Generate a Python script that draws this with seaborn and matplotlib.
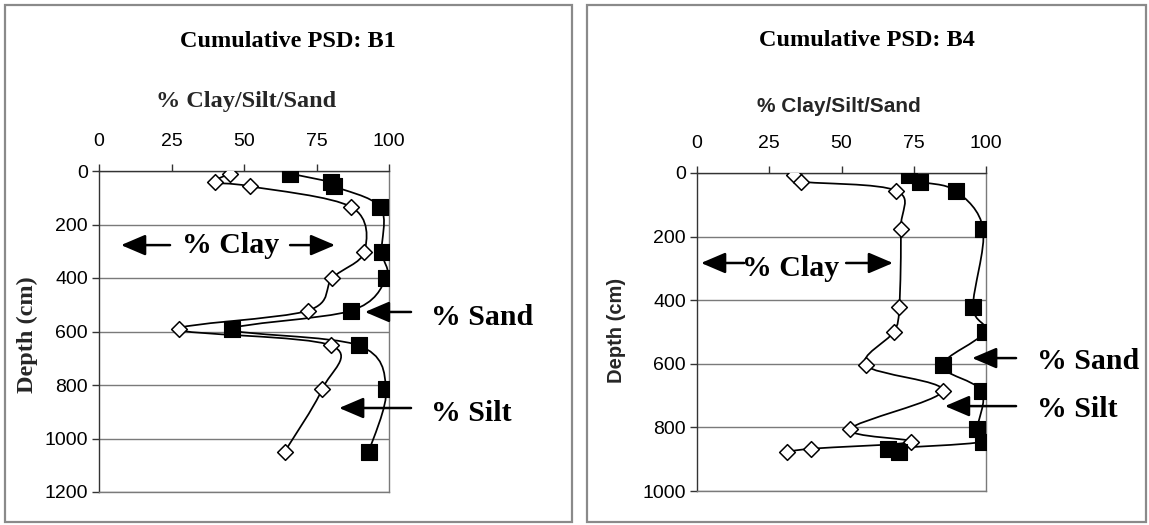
import numpy as np
import pandas as pd
import matplotlib
matplotlib.use("Agg")
import matplotlib.pyplot as plt
from matplotlib.path import Path
from matplotlib.patches import PathPatch, Rectangle
import seaborn as sns

# ---------------- data ----------------
b1_depth = [10, 42, 57, 135, 302, 400, 522, 592, 652, 815, 1050]
b1_sand = [66, 80, 81, 97, 97.5, 99, 87, 46, 89.5, 99, 93]
b1_silt = [45, 40, 52, 87, 91.5, 80.5, 72, 27.5, 80, 77, 64]

b4_depth = [5, 27, 56, 177, 420, 500, 605, 685, 805, 845, 867, 878]
b4_sand = [73.5, 77, 89.5, 99, 95.5, 99.5, 85, 98.5, 97, 99, 66, 70]
b4_silt = [33.5, 36, 69, 70.5, 70, 68, 58.5, 85, 53, 74, 39.5, 31]

x_ticks = [0, 25, 50, 75, 100]
b1_yticks = [0, 200, 400, 600, 800, 1000, 1200]
b4_yticks = [0, 200, 400, 600, 800, 1000]

sns.set_theme(style="white")
plt.rcParams["font.family"] = ["Liberation Sans", "DejaVu Sans"]

SERIF = ["Liberation Serif", "DejaVu Serif"]
SANS = ["Liberation Sans", "DejaVu Sans"]


def smooth_path(xs, ys):
    pts = np.column_stack([xs, ys]).astype(float)
    verts = [pts[0]]
    codes = [Path.MOVETO]
    n = len(pts)
    for i in range(n - 1):
        p0 = pts[i - 1] if i > 0 else pts[i]
        p1 = pts[i]
        p2 = pts[i + 1]
        p3 = pts[i + 2] if i + 2 < n else pts[i + 1]
        c1 = p1 + (p2 - p0) / 6.0
        c2 = p2 - (p3 - p1) / 6.0
        verts += [c1, c2, p2]
        codes += [Path.CURVE4] * 3
    return Path(verts, codes)


fig = plt.figure(figsize=(11.49, 5.25), dpi=100)

# panel frames
for x0, w in [(5 / 1149, 567 / 1149), (587 / 1149, 559 / 1149)]:
    fig.patches.append(Rectangle((x0, 3 / 525), w, 517 / 525, transform=fig.transFigure,
                                 fill=False, edgecolor="#8a8a8a", lw=1.6))

axL = fig.add_axes([99 / 1149, 1 - 492 / 525, 290 / 1149, 321 / 525])
axR = fig.add_axes([697 / 1149, 1 - 491 / 525, 289 / 1149, 318 / 525])


def draw_panel(ax, depth, sand, silt, ymax, yticks):
    df = pd.DataFrame({"depth": depth, "sand": sand, "silt": silt})
    for col in ["silt", "sand"]:
        ax.add_patch(PathPatch(smooth_path(df[col], df["depth"]), fill=False,
                               edgecolor="black", lw=1.25, zorder=2))
    sns.scatterplot(data=df, x="silt", y="depth", marker="D", s=64, color="white",
                    edgecolor="black", linewidth=1.1, ax=ax, zorder=3)
    sns.scatterplot(data=df, x="sand", y="depth", marker="s", s=125, color="black",
                    edgecolor="black", linewidth=0.8, ax=ax, zorder=3)
    ax.set_xlim(0, 100)
    ax.set_ylim(ymax, 0)
    ax.set_xticks(x_ticks)
    ax.set_yticks(yticks)
    ax.xaxis.tick_top()
    ax.tick_params(axis="x", which="both", top=True, bottom=False, direction="out",
                   length=5, width=1, color="#333333", pad=10, labelsize=14)
    ax.tick_params(axis="y", which="both", left=True, direction="out",
                   length=5, width=1, color="#333333", pad=3, labelsize=14)
    for lab in ax.get_xticklabels() + ax.get_yticklabels():
        lab.set_fontfamily(SANS)
        lab.set_color("black")
    ax.yaxis.grid(True, color="#7a7a7a", lw=1.0)
    ax.xaxis.grid(False)
    for s in ax.spines.values():
        s.set_color("#7a7a7a")
        s.set_linewidth(1.0)
    ax.spines["left"].set_color("#333333")
    ax.spines["top"].set_color("#333333")
    ax.set_facecolor("white")


draw_panel(axL, b1_depth, b1_sand, b1_silt, 1200, b1_yticks)
draw_panel(axR, b4_depth, b4_sand, b4_silt, 1000, b4_yticks)

# titles and labels
axL.set_title("Cumulative PSD: B1", x=0.652, y=1.402, pad=0, va="center", fontsize=17.5,
              fontweight="bold", fontfamily=SERIF, color="black")
axR.set_title("Cumulative PSD: B4", x=0.588, y=1.418, pad=0, va="center", fontsize=17.5,
              fontweight="bold", fontfamily=SERIF, color="black")

axL.set_xlabel("% Clay/Silt/Sand", fontsize=17.5, fontweight="bold", fontfamily=SERIF)
axL.xaxis.set_label_coords(0.507, 1.215)
axL.xaxis.label.set_va("center")
axR.set_xlabel("% Clay/Silt/Sand", fontsize=15, fontweight="bold", fontfamily=SANS)
axR.xaxis.set_label_coords(0.49, 1.21)
axR.xaxis.label.set_va("center")

axL.set_ylabel("Depth (cm)", fontsize=17.5, fontweight="bold", fontfamily=SERIF)
axL.yaxis.set_label_coords(-0.247, 0.489)
axL.yaxis.label.set_va("center")
axR.set_ylabel("Depth (cm)", fontsize=14.5, fontweight="bold", fontfamily=SANS)
axR.yaxis.set_label_coords(-0.277, 0.506)
axR.yaxis.label.set_va("center")

ARROW = dict(arrowstyle="-|>,head_length=0.75,head_width=0.32", color="black",
             lw=1.8, shrinkA=0, shrinkB=0, mutation_scale=20)


def arrow(ax, x_tail, x_head, y):
    ax.annotate("", xy=(x_head, y), xytext=(x_tail, y), arrowprops=ARROW,
                annotation_clip=False, zorder=4)


def label(ax, x, y, t, ha):
    ax.text(x, y, t, ha=ha, va="center", fontsize=21.5, fontweight="bold",
            fontfamily=SERIF, color="black", clip_on=False, zorder=4)


# B1 annotations
label(axL, 45.5, 277, "% Clay", "center")
arrow(axL, 24.5, 7.6, 277)
arrow(axL, 65.9, 81.4, 277)
label(axL, 114.5, 546, "% Sand", "left")
arrow(axL, 107.6, 91.7, 527)
label(axL, 114.5, 908, "% Silt", "left")
arrow(axL, 107.6, 82.8, 886)

# B4 annotations
label(axR, 32.5, 299, "% Clay", "center")
arrow(axR, 16.3, 1.4, 283)
arrow(axR, 51.6, 67.8, 283)
label(axR, 117.6, 594, "% Sand", "left")
arrow(axR, 110.4, 95.2, 582)
label(axR, 117.6, 745, "% Silt", "left")
arrow(axR, 110.4, 85.8, 733)

fig.savefig("out.png", dpi=100, facecolor="white")
